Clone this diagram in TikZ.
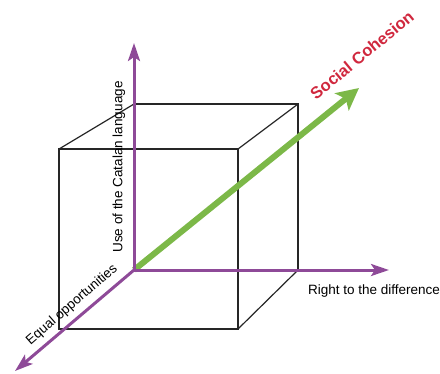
\documentclass[tikz,border=0pt]{standalone}
\usepackage{fontspec}
\setmainfont{Liberation Sans}
\usetikzlibrary{arrows.meta}
\definecolor{axpurple}{RGB}{142,74,152}
\definecolor{cgreen}{RGB}{124,184,72}
\definecolor{cred}{RGB}{208,40,62}
\tikzset{
  cubeedge/.style={draw=black!85, line width=1.2pt},
  axisline/.style={draw=axpurple, line width=3pt, -{Stealth[length=18pt,width=12pt,inset=4pt]}},
  cohesion/.style={draw=cgreen, line width=6pt, -{Stealth[length=22pt,width=22pt,inset=5pt]}},
  axlabel/.style={font=\fontsize{13.5}{16}\selectfont, text=black, inner sep=0pt},
}
\begin{document}
\begin{tikzpicture}[x=1pt,y=-1pt]
\useasboundingbox (0,0) rectangle (440,373);
% cube corners
\coordinate (b1) at (134,104);
\coordinate (b2) at (298,104);
\coordinate (b3) at (298,270);
\coordinate (O) at (134,270);
\coordinate (f1) at (59,149);
\coordinate (f2) at (238,149);
\coordinate (f3) at (238,329);
\coordinate (f4) at (59,329);
% cube
\draw[cubeedge] (b1) -- (b2) -- (b3);
\draw[cubeedge] (f1) -- (f2) -- (f3) -- (f4) -- cycle;
\draw[cubeedge] (f1) -- (b1);
\draw[cubeedge] (f2) -- (b2);
\draw[cubeedge] (f3) -- (b3);
% axes tips
\coordinate (up) at (134,43);
\coordinate (right) at (389,270);
\coordinate (down) at (15,371);
\coordinate (sc) at (359,88);
\draw[cohesion] (O) -- (sc);
\draw[axisline] (O) -- (up);
\draw[axisline] (O) -- (right);
\draw[axisline] (O) -- (down);
% labels
\node[axlabel, rotate=90] (lcat) at (119,167) {Use of the Catalan language};
\node[axlabel] (lright) at (374,291) {Right to the difference};
\node[axlabel, rotate=41] (leq) at (72,305) {Equal opportunities};
\node[inner sep=0pt, rotate=39.5, text=cred, font=\fontsize{16.5}{20}\selectfont\bfseries] (lsc) at (362,55) {Social Cohesion};
\end{tikzpicture}
\end{document}
